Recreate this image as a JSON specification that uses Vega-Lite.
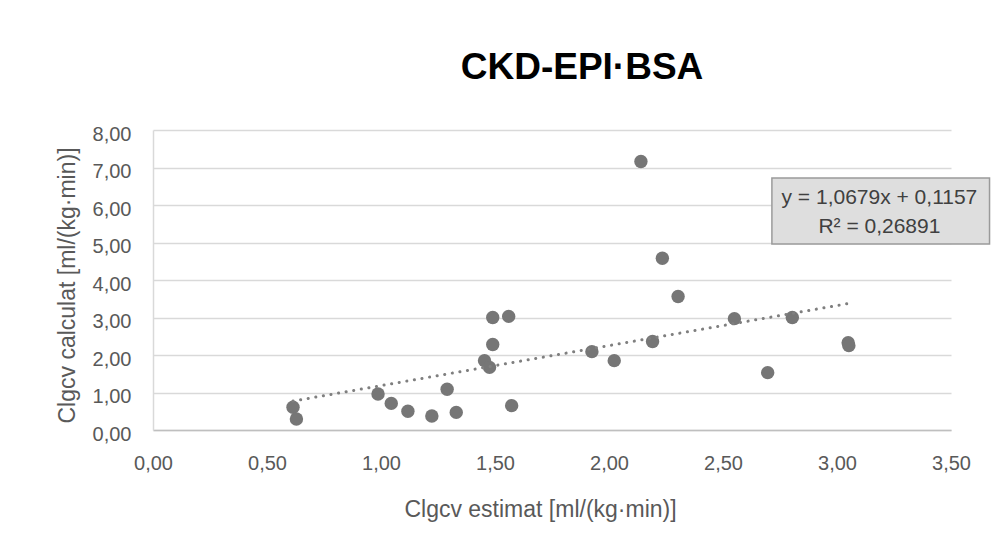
{
  "$schema": "https://vega.github.io/schema/vega-lite/v6.json",
  "width": 798,
  "height": 300,
  "autosize": {"type": "none"},
  "padding": {"left": 153, "top": 130, "right": 44, "bottom": 122},
  "background": "white",
  "title": {"text": "CKD-EPI·BSA", "font": "Liberation Sans", "fontSize": 37, "fontWeight": "bold", "color": "#000000", "anchor": "middle", "dx": 30, "offset": 37},
  "config": {"view": {"stroke": null}},
  "datasets": {
    "points": [
      {"x": 0.614, "y": 0.605}, {"x": 0.629, "y": 0.293}, {"x": 0.987, "y": 0.96}, {"x": 1.045, "y": 0.71},
      {"x": 1.118, "y": 0.50}, {"x": 1.223, "y": 0.373}, {"x": 1.290, "y": 1.085}, {"x": 1.330, "y": 0.47},
      {"x": 1.454, "y": 1.85}, {"x": 1.476, "y": 1.67}, {"x": 1.490, "y": 2.28}, {"x": 1.490, "y": 3.0},
      {"x": 1.560, "y": 3.03}, {"x": 1.573, "y": 0.65}, {"x": 1.925, "y": 2.09}, {"x": 2.023, "y": 1.85},
      {"x": 2.140, "y": 7.16}, {"x": 2.191, "y": 2.36}, {"x": 2.234, "y": 4.58}, {"x": 2.303, "y": 3.56},
      {"x": 2.550, "y": 2.97}, {"x": 2.696, "y": 1.53}, {"x": 2.804, "y": 3.0}, {"x": 3.049, "y": 2.33},
      {"x": 3.052, "y": 2.25}
    ],
    "trend": [{"x": 0.614, "y": 0.771}, {"x": 3.05, "y": 3.373}],
    "box": [{"x": 2.7145, "x2": 3.669, "y": 4.96, "y2": 6.72}],
    "eq": [
      {"x": 3.186, "y": 6.18, "label": "y = 1,0679x + 0,1157"},
      {"x": 3.186, "y": 5.42, "label": "R² = 0,26891"}
    ]
  },
  "encoding": {
    "x": {
      "field": "x", "type": "quantitative",
      "scale": {"domain": [0, 3.5], "nice": false},
      "axis": {
        "title": "Clgcv estimat [ml/(kg·min)]",
        "values": [0, 0.5, 1, 1.5, 2, 2.5, 3, 3.5],
        "labelExpr": "replace(format(datum.value, '.2f'), '.', ',')",
        "grid": false, "ticks": false, "tickSize": 0, "labelOverlap": false,
        "domainColor": "#bfbfbf", "domainWidth": 1.5,
        "labelFont": "Liberation Sans", "labelFontSize": 20, "labelColor": "#595959",
        "labelBaseline": "middle", "labelPadding": 33, "labelFlush": false,
        "titleFont": "Liberation Sans", "titleFontSize": 23, "titleFontWeight": "normal", "titleColor": "#595959",
        "titleX": 387, "titleY": 79, "titleBaseline": "middle", "titleAlign": "center"
      }
    },
    "y": {
      "field": "y", "type": "quantitative",
      "scale": {"domain": [0, 8], "nice": false},
      "axis": {
        "title": "Clgcv calculat [ml/(kg·min)]",
        "values": [0, 1, 2, 3, 4, 5, 6, 7, 8],
        "tickCount": 9,
        "labelExpr": "replace(format(datum.value, '.2f'), '.', ',')",
        "grid": true, "gridColor": "#d9d9d9", "gridWidth": 1.5,
        "ticks": false, "tickSize": 0, "labelOverlap": false,
        "domainColor": "#d9d9d9", "domainWidth": 1.5,
        "labelFont": "Liberation Sans", "labelFontSize": 20, "labelColor": "#595959",
        "labelPadding": 22, "labelFlush": false, "labelOffset": 4,
        "titleFont": "Liberation Sans", "titleFontSize": 23, "titleFontWeight": "normal", "titleColor": "#595959",
        "titleX": -86, "titleY": 155, "titleAngle": -90, "titleBaseline": "middle", "titleAlign": "center"
      }
    }
  },
  "layer": [
    {
      "data": {"name": "points"},
      "mark": {"type": "circle", "size": 180, "color": "#767676", "opacity": 1}
    },
    {
      "data": {"name": "trend"},
      "mark": {"type": "line", "color": "#7f7f7f", "strokeWidth": 3, "strokeDash": [0.1, 7.6], "strokeCap": "round"}
    },
    {
      "data": {"name": "box"},
      "mark": {"type": "rect", "fill": "#dedede", "stroke": "#9a9a9a", "strokeWidth": 1.5},
      "encoding": {
        "x2": {"field": "x2"},
        "y2": {"field": "y2"}
      }
    },
    {
      "data": {"name": "eq"},
      "mark": {"type": "text", "font": "Liberation Sans", "fontSize": 21, "color": "#404040", "baseline": "middle", "align": "center"},
      "encoding": {
        "text": {"field": "label"}
      }
    }
  ]
}
